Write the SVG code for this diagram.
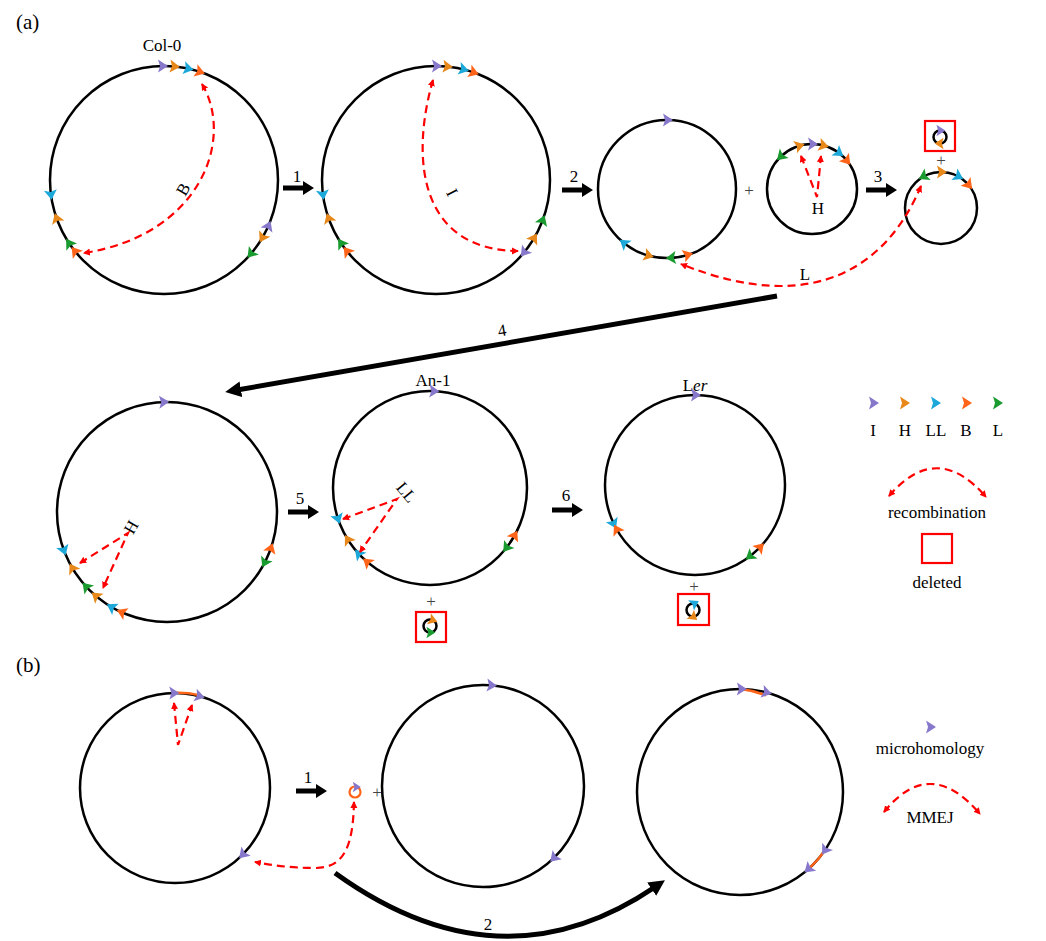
<svg xmlns="http://www.w3.org/2000/svg" xmlns:xlink="http://www.w3.org/1999/xlink" width="1046" height="941" viewBox="0 0 1046 941">
<style>
text{font-family:"Liberation Serif","Times New Roman",serif;fill:#000}
.lab{font-size:17px;text-anchor:middle}
.big{font-size:21px}
.plus{font-size:17px;text-anchor:middle;fill:#444}
.ring{fill:none;stroke:#000;stroke-width:2.5}
.rec{fill:none;stroke:#f00;stroke-width:2.2;stroke-dasharray:8 5;marker-start:url(#rh);marker-end:url(#rh)}
.del{fill:none;stroke:#f00;stroke-width:2.2}
.mh{fill:none;stroke:#ff6418;stroke-width:2.5}
.thick{fill:none;stroke:#000;stroke-width:5}
.cI{fill:#8878cc}.cH{fill:#e8881a}.cLL{fill:#1ca8d8}.cB{fill:#ff6418}.cL{fill:#1a9b30}
</style>
<defs>
<polygon id="tri" points="-4,-6.5 6,0 -4,6.5 -2,0"/>
<path id="barrow" d="M0,-2.5 H20 V-7 L31,0 L20,7 V2.5 H0 Z" fill="#000"/>
<marker id="rh" markerUnits="userSpaceOnUse" markerWidth="10" markerHeight="10" refX="6" refY="4" orient="auto-start-reverse">
<path d="M0,0.5 L7,4 L0,7.5 Z" fill="#f00"/>
</marker>
<marker id="bh" markerUnits="userSpaceOnUse" markerWidth="20" markerHeight="20" refX="4" refY="8" orient="auto">
<path d="M0,0 L16,8 L0,16 Z" fill="#000"/>
</marker>
</defs>
<rect width="1046" height="941" fill="#fff"/>
<text class="big" x="16" y="29">(a)</text>
<text class="big" x="16" y="672">(b)</text>

<g id="col0">
<text class="lab" x="162" y="51">Col-0</text>
<circle class="ring" cx="164" cy="180" r="114"/>
<use href="#tri" class="cI" transform="translate(164,180) rotate(-1) translate(0,-114)"/>
<use href="#tri" class="cH" transform="translate(164,180) rotate(5) translate(0,-114)"/>
<use href="#tri" class="cLL" transform="translate(164,180) rotate(12) translate(0,-114)"/>
<use href="#tri" class="cB" transform="translate(164,180) rotate(18) translate(0,-114)"/>
<use href="#tri" class="cLL" transform="translate(164,180) rotate(263) translate(0,-114) rotate(180)"/>
<use href="#tri" class="cH" transform="translate(164,180) rotate(250) translate(0,-114)"/>
<use href="#tri" class="cL" transform="translate(164,180) rotate(236) translate(0,-114)"/>
<use href="#tri" class="cB" transform="translate(164,180) rotate(231) translate(0,-114)"/>
<use href="#tri" class="cI" transform="translate(164,180) rotate(114) translate(0,-114) rotate(180)"/>
<use href="#tri" class="cH" transform="translate(164,180) rotate(120) translate(0,-114)"/>
<use href="#tri" class="cL" transform="translate(164,180) rotate(130) translate(0,-114)"/>
</g>

<g id="c2">
<circle class="ring" cx="436" cy="180" r="114"/>
<use href="#tri" class="cI" transform="translate(436,180) rotate(0) translate(0,-114)"/>
<use href="#tri" class="cH" transform="translate(436,180) rotate(5.5) translate(0,-114)"/>
<use href="#tri" class="cLL" transform="translate(436,180) rotate(13.7) translate(0,-114)"/>
<use href="#tri" class="cB" transform="translate(436,180) rotate(19) translate(0,-114)"/>
<use href="#tri" class="cLL" transform="translate(436,180) rotate(263) translate(0,-114) rotate(180)"/>
<use href="#tri" class="cH" transform="translate(436,180) rotate(250) translate(0,-114)"/>
<use href="#tri" class="cL" transform="translate(436,180) rotate(236) translate(0,-114)"/>
<use href="#tri" class="cB" transform="translate(436,180) rotate(231) translate(0,-114)"/>
<use href="#tri" class="cL" transform="translate(436,180) rotate(111) translate(0,-114) rotate(180)"/>
<use href="#tri" class="cH" transform="translate(436,180) rotate(121) translate(0,-114) rotate(180)"/>
<use href="#tri" class="cI" transform="translate(436,180) rotate(129) translate(0,-114)"/>
</g>

<g id="c3">
<circle class="ring" cx="667" cy="189" r="69"/>
<use href="#tri" class="cI" transform="translate(667,189) rotate(0) translate(0,-69)"/>
<use href="#tri" class="cLL" transform="translate(667,189) rotate(218) translate(0,-69)"/>
<use href="#tri" class="cH" transform="translate(667,189) rotate(196) translate(0,-69) rotate(180)"/>
<use href="#tri" class="cL" transform="translate(667,189) rotate(176) translate(0,-69)"/>
<use href="#tri" class="cB" transform="translate(667,189) rotate(163) translate(0,-69) rotate(180)"/>
</g>

<g id="c4">
<circle class="ring" cx="812" cy="189" r="45"/>
<use href="#tri" class="cL" transform="translate(812,189) rotate(-43) translate(0,-45) rotate(180)"/>
<use href="#tri" class="cH" transform="translate(812,189) rotate(-17) translate(0,-45)"/>
<use href="#tri" class="cI" transform="translate(812,189) rotate(0) translate(0,-45)"/>
<use href="#tri" class="cH" transform="translate(812,189) rotate(14) translate(0,-45)"/>
<use href="#tri" class="cLL" transform="translate(812,189) rotate(36) translate(0,-45)"/>
<use href="#tri" class="cB" transform="translate(812,189) rotate(50) translate(0,-45)"/>
<text class="lab" x="818" y="214">H</text>
</g>

<g id="c5">
<circle class="ring" cx="941" cy="208" r="36"/>
<use href="#tri" class="cL" transform="translate(941,208) rotate(-28) translate(0,-36) rotate(180)"/>
<use href="#tri" class="cH" transform="translate(941,208) rotate(0) translate(0,-36)"/>
<use href="#tri" class="cLL" transform="translate(941,208) rotate(28) translate(0,-36)"/>
<use href="#tri" class="cB" transform="translate(941,208) rotate(49) translate(0,-36)"/>
<text class="plus" x="941" y="166">+</text>
<rect class="del" x="925" y="121" width="30" height="30"/>
<circle class="ring" cx="940" cy="137" r="6.5"/>
<use href="#tri" class="cI" transform="translate(940,137) rotate(0) translate(0,-6.5) scale(0.9)"/>
<use href="#tri" class="cH" transform="translate(940,137) rotate(180) translate(0,-6.5) scale(0.9)"/>
</g>

<g id="c6">
<circle class="ring" cx="167" cy="512" r="110"/>
<use href="#tri" class="cI" transform="translate(167,512) rotate(-2) translate(0,-110)"/>
<use href="#tri" class="cLL" transform="translate(167,512) rotate(250) translate(0,-110) rotate(180)"/>
<use href="#tri" class="cH" transform="translate(167,512) rotate(239) translate(0,-110)"/>
<use href="#tri" class="cL" transform="translate(167,512) rotate(227) translate(0,-110)"/>
<use href="#tri" class="cH" transform="translate(167,512) rotate(220) translate(0,-110)"/>
<use href="#tri" class="cLL" transform="translate(167,512) rotate(210) translate(0,-110)"/>
<use href="#tri" class="cB" transform="translate(167,512) rotate(204) translate(0,-110)"/>
<use href="#tri" class="cB" transform="translate(167,512) rotate(109.6) translate(0,-110) rotate(180)"/>
<use href="#tri" class="cL" transform="translate(167,512) rotate(117) translate(0,-110)"/>
</g>

<g id="an1">
<text class="lab" x="433" y="386">An-1</text>
<circle class="ring" cx="430" cy="488" r="97"/>
<use href="#tri" class="cI" transform="translate(430,488) rotate(2) translate(0,-97)"/>
<use href="#tri" class="cLL" transform="translate(430,488) rotate(252) translate(0,-97) rotate(180)"/>
<use href="#tri" class="cH" transform="translate(430,488) rotate(237.5) translate(0,-97)"/>
<use href="#tri" class="cLL" transform="translate(430,488) rotate(227) translate(0,-97)"/>
<use href="#tri" class="cB" transform="translate(430,488) rotate(220) translate(0,-97)"/>
<use href="#tri" class="cB" transform="translate(430,488) rotate(119.6) translate(0,-97) rotate(180)"/>
<use href="#tri" class="cL" transform="translate(430,488) rotate(127.6) translate(0,-97)"/>
<text class="plus" x="431" y="607">+</text>
<rect class="del" x="416" y="612" width="30" height="30"/>
<circle class="ring" cx="430" cy="626" r="6.5"/>
<use href="#tri" class="cH" transform="translate(430,626) rotate(20) translate(0,-6.5) scale(0.9)"/>
<use href="#tri" class="cL" transform="translate(430,626) rotate(180) translate(0,-6.5) rotate(180) scale(0.9)"/>
</g>

<g id="ler">
<text class="lab" x="695" y="391">L<tspan font-style="italic">er</tspan></text>
<circle class="ring" cx="695" cy="485" r="90"/>
<use href="#tri" class="cI" transform="translate(695,485) rotate(0) translate(0,-90)"/>
<use href="#tri" class="cLL" transform="translate(695,485) rotate(245) translate(0,-90) rotate(180)"/>
<use href="#tri" class="cB" transform="translate(695,485) rotate(240) translate(0,-90)"/>
<use href="#tri" class="cB" transform="translate(695,485) rotate(134) translate(0,-90) rotate(180)"/>
<use href="#tri" class="cL" transform="translate(695,485) rotate(142) translate(0,-90)"/>
<text class="plus" x="694" y="592">+</text>
<rect class="del" x="678" y="594" width="31" height="31"/>
<circle class="ring" cx="693" cy="610" r="6.5"/>
<use href="#tri" class="cLL" transform="translate(693,610) rotate(10) translate(0,-6.5) rotate(-40) scale(0.9)"/>
<use href="#tri" class="cH" transform="translate(693,610) rotate(180) translate(0,-6.5) rotate(220) scale(0.9)"/>
</g>

<g id="legendA">
<use href="#tri" class="cI" transform="translate(873,403)"/>
<use href="#tri" class="cH" transform="translate(904,403)"/>
<use href="#tri" class="cLL" transform="translate(935,403)"/>
<use href="#tri" class="cB" transform="translate(966,403)"/>
<use href="#tri" class="cL" transform="translate(997,403)"/>
<text class="lab" x="873" y="436">I</text>
<text class="lab" x="905" y="436">H</text>
<text class="lab" x="936" y="436">LL</text>
<text class="lab" x="966" y="436">B</text>
<text class="lab" x="998" y="436">L</text>
<path class="rec" d="M889,496 Q937,440 986,497"/>
<text class="lab" x="937" y="518">recombination</text>
<rect class="del" x="922" y="534" width="30" height="29"/>
<text class="lab" x="937" y="588">deleted</text>
</g>

<g id="b1">
<circle class="ring" cx="175" cy="788" r="95"/>
<path class="mh" d="M173.3,693 A95,95 0 0 1 199,695.1"/>
<use href="#tri" class="cI" transform="translate(175,788) rotate(-1) translate(0,-95)"/>
<use href="#tri" class="cI" transform="translate(175,788) rotate(14.6) translate(0,-95)"/>
<use href="#tri" class="cI" transform="translate(175,788) rotate(134) translate(0,-95)"/>
</g>

<g id="bsmall">
<circle cx="355" cy="792" r="5.5" fill="none" stroke="#ff6418" stroke-width="2.2"/>
<use href="#tri" class="cI" transform="translate(356,787) scale(0.8)"/>
<text class="plus" x="377" y="798">+</text>
</g>

<g id="b2">
<circle class="ring" cx="483" cy="786" r="101"/>
<use href="#tri" class="cI" transform="translate(483,786) rotate(4.5) translate(0,-101)"/>
<use href="#tri" class="cI" transform="translate(483,786) rotate(135) translate(0,-101)"/>
</g>

<g id="b3">
<circle class="ring" cx="740" cy="792" r="103"/>
<path class="mh" d="M740.9,689 A103,103 0 0 1 766,695.3"/>
<path class="mh" d="M825.4,849.6 A103,103 0 0 1 809,868.6"/>
<use href="#tri" class="cI" transform="translate(740,792) rotate(0.5) translate(0,-103)"/>
<use href="#tri" class="cI" transform="translate(740,792) rotate(14.6) translate(0,-103)"/>
<use href="#tri" class="cI" transform="translate(740,792) rotate(124) translate(0,-103)"/>
<use href="#tri" class="cI" transform="translate(740,792) rotate(138) translate(0,-103)"/>
</g>

<g id="legendB">
<use href="#tri" class="cI" transform="translate(930,727)"/>
<text class="lab" x="930" y="754">microhomology</text>
<path class="rec" d="M884,812 Q930,755 980,814"/>
<text class="lab" x="930" y="823">MMEJ</text>
</g>

<g id="connectors">
<use href="#barrow" transform="translate(283,188)"/>
<text class="lab" x="297" y="182">1</text>
<use href="#barrow" transform="translate(562,190)"/>
<text class="lab" x="574" y="182">2</text>
<use href="#barrow" transform="translate(866,190)"/>
<text class="lab" x="878" y="182">3</text>
<text class="plus" x="749" y="196">+</text>
<line class="thick" x1="777" y1="296" x2="237" y2="390" marker-end="url(#bh)"/>
<text class="lab" x="502" y="336" transform="rotate(-10 502 330)">4</text>
<use href="#barrow" transform="translate(288,512)"/>
<text class="lab" x="300" y="504">5</text>
<use href="#barrow" transform="translate(552,510)"/>
<text class="lab" x="566" y="501">6</text>
<use href="#barrow" transform="translate(296,791)"/>
<text class="lab" x="308" y="783">1</text>
<path class="thick" d="M335,873 Q500,992 655,887" marker-end="url(#bh)"/>
<text class="lab" x="488" y="930">2</text>

<path class="rec" d="M202,84 C235,140 200,235 84,253"/>
<text class="lab" transform="translate(188,192) rotate(-60)">B</text>
<path class="rec" d="M433,80 C410,160 420,250 518,251"/>
<text class="lab" transform="translate(447,195) rotate(63)">I</text>
<path class="rec" d="M801,156 L817,197 L821,156"/>
<path class="rec" d="M921,186 C890,260 820,320 681,264"/>
<text class="lab" x="805" y="280">L</text>
<path class="rec" d="M80,563 L128,533 L103,588"/>
<text class="lab" transform="translate(136,530) rotate(-60)">H</text>
<path class="rec" d="M343,519 L397,499 L360,552"/>
<text class="lab" transform="translate(402,496) rotate(50)">LL</text>
<path class="rec" d="M174,703 L178,745 L192,705"/>
<path class="rec" d="M354,802 C353,845 345,868 315,868 C290,868 270,865 255,862"/>
</g>
</svg>
